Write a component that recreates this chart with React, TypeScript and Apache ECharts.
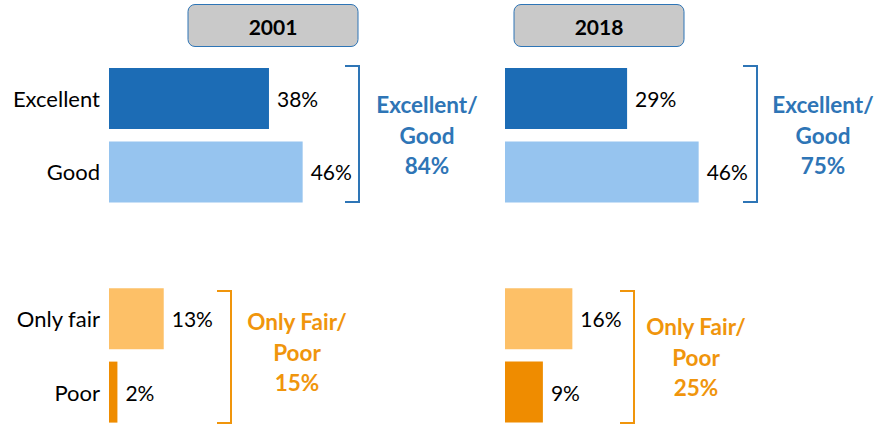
import React, { useEffect, useRef } from "react";
import * as echarts from "echarts";

const categories = ["Excellent", "Good", "", "Only fair", "Poor"];
const values2001 = [38, 46, null, 13, 2];
const values2018 = [29, 46, null, 16, 9];
const years = ["2001", "2018"];
const goodTotals = ["84%", "75%"];
const poorTotals = ["15%", "25%"];
const barColors = ["#1c6cb5", "#96c4ef", "", "#fdc067", "#ef8c00"];

const BLUE = "#2e75b6";
const ORANGE = "#f0950c";
const FONT = "Lato, 'Noto Sans', sans-serif";

export default function App() {
  const ref = useRef<HTMLDivElement>(null);
  useEffect(() => {
    if (!ref.current) return;
    const chart = echarts.init(ref.current, null, { renderer: "svg" });
    const mkData = (vals: (number | null)[]) =>
      vals.map((v, i) => (v === null ? "-" : { value: v, itemStyle: { color: barColors[i] } }));

    const gridTop = 61.8;
    const gridH = 367;
    const bracket = (x: number, y1: number, y2: number, color: string) => ({
      type: "polyline",
      shape: { points: [[x - 14, y1], [x, y1], [x, y2], [x - 14, y2]] },
      style: { stroke: color, lineWidth: 2, fill: "none" },
    });
    const groupText = (cx: number, cy: number, text: string, color: string) => ({
      type: "text",
      x: cx,
      y: cy,
      style: {
        text,
        fill: color,
        font: `bold 22.5px ${FONT}`,
        textAlign: "center",
        textVerticalAlign: "middle",
        lineHeight: 30.5,
      },
    });
    const header = (x: number, label: string) => ({
      type: "group",
      children: [
        {
          type: "rect",
          shape: { x, y: 4.5, width: 170, height: 42, r: 7 },
          style: { fill: "#c9c9c9", stroke: BLUE, lineWidth: 1 },
        },
        {
          type: "text",
          x: x + 85,
          y: 26,
          style: {
            text: label,
            fill: "#000",
            font: `bold 21px ${FONT}`,
            textAlign: "center",
            textVerticalAlign: "middle",
          },
        },
      ],
    });

    const labelOpt = {
      show: true,
      position: "right",
      distance: 8,
      formatter: "{c}%",
      color: "#000",
      fontSize: 21,
      fontFamily: FONT,
    };

    chart.setOption({
      animation: false,
      grid: [
        { left: 109, top: gridTop, width: 210.5, height: gridH },
        { left: 505, top: gridTop, width: 210.5, height: gridH },
      ],
      xAxis: [0, 1].map((g) => ({
        type: "value",
        gridIndex: g,
        min: 0,
        max: 50,
        show: false,
        splitLine: { show: false },
      })),
      yAxis: [0, 1].map((g) => ({
        type: "category",
        gridIndex: g,
        data: categories,
        inverse: true,
        axisLine: { show: false },
        axisTick: { show: false },
        axisLabel: {
          show: g === 0,
          margin: 9,
          color: "#000",
          fontSize: 22,
          fontFamily: FONT,
        },
      })),
      series: [
        {
          type: "bar",
          xAxisIndex: 0,
          yAxisIndex: 0,
          data: mkData(values2001),
          barWidth: 61,
          label: labelOpt,
        },
        {
          type: "bar",
          xAxisIndex: 1,
          yAxisIndex: 1,
          data: mkData(values2018),
          barWidth: 61,
          label: labelOpt,
        },
      ],
      graphic: [
        header(188, years[0]),
        header(514, years[1]),
        bracket(359, 66, 202, BLUE),
        bracket(757, 66, 202, BLUE),
        bracket(231, 291, 423, ORANGE),
        bracket(634, 291, 423, ORANGE),
        groupText(427, 135, `Excellent/\nGood\n${goodTotals[0]}`, BLUE),
        groupText(823, 135, `Excellent/\nGood\n${goodTotals[1]}`, BLUE),
        groupText(297, 352, `Only Fair/\nPoor\n${poorTotals[0]}`, ORANGE),
        groupText(696, 357, `Only Fair/\nPoor\n${poorTotals[1]}`, ORANGE),
      ],
    });
    return () => chart.dispose();
  }, []);
  return (
    <div
      ref={ref}
      style={{ position: "fixed", left: 0, top: 0, width: 878, height: 440, background: "#fff" }}
    />
  );
}
